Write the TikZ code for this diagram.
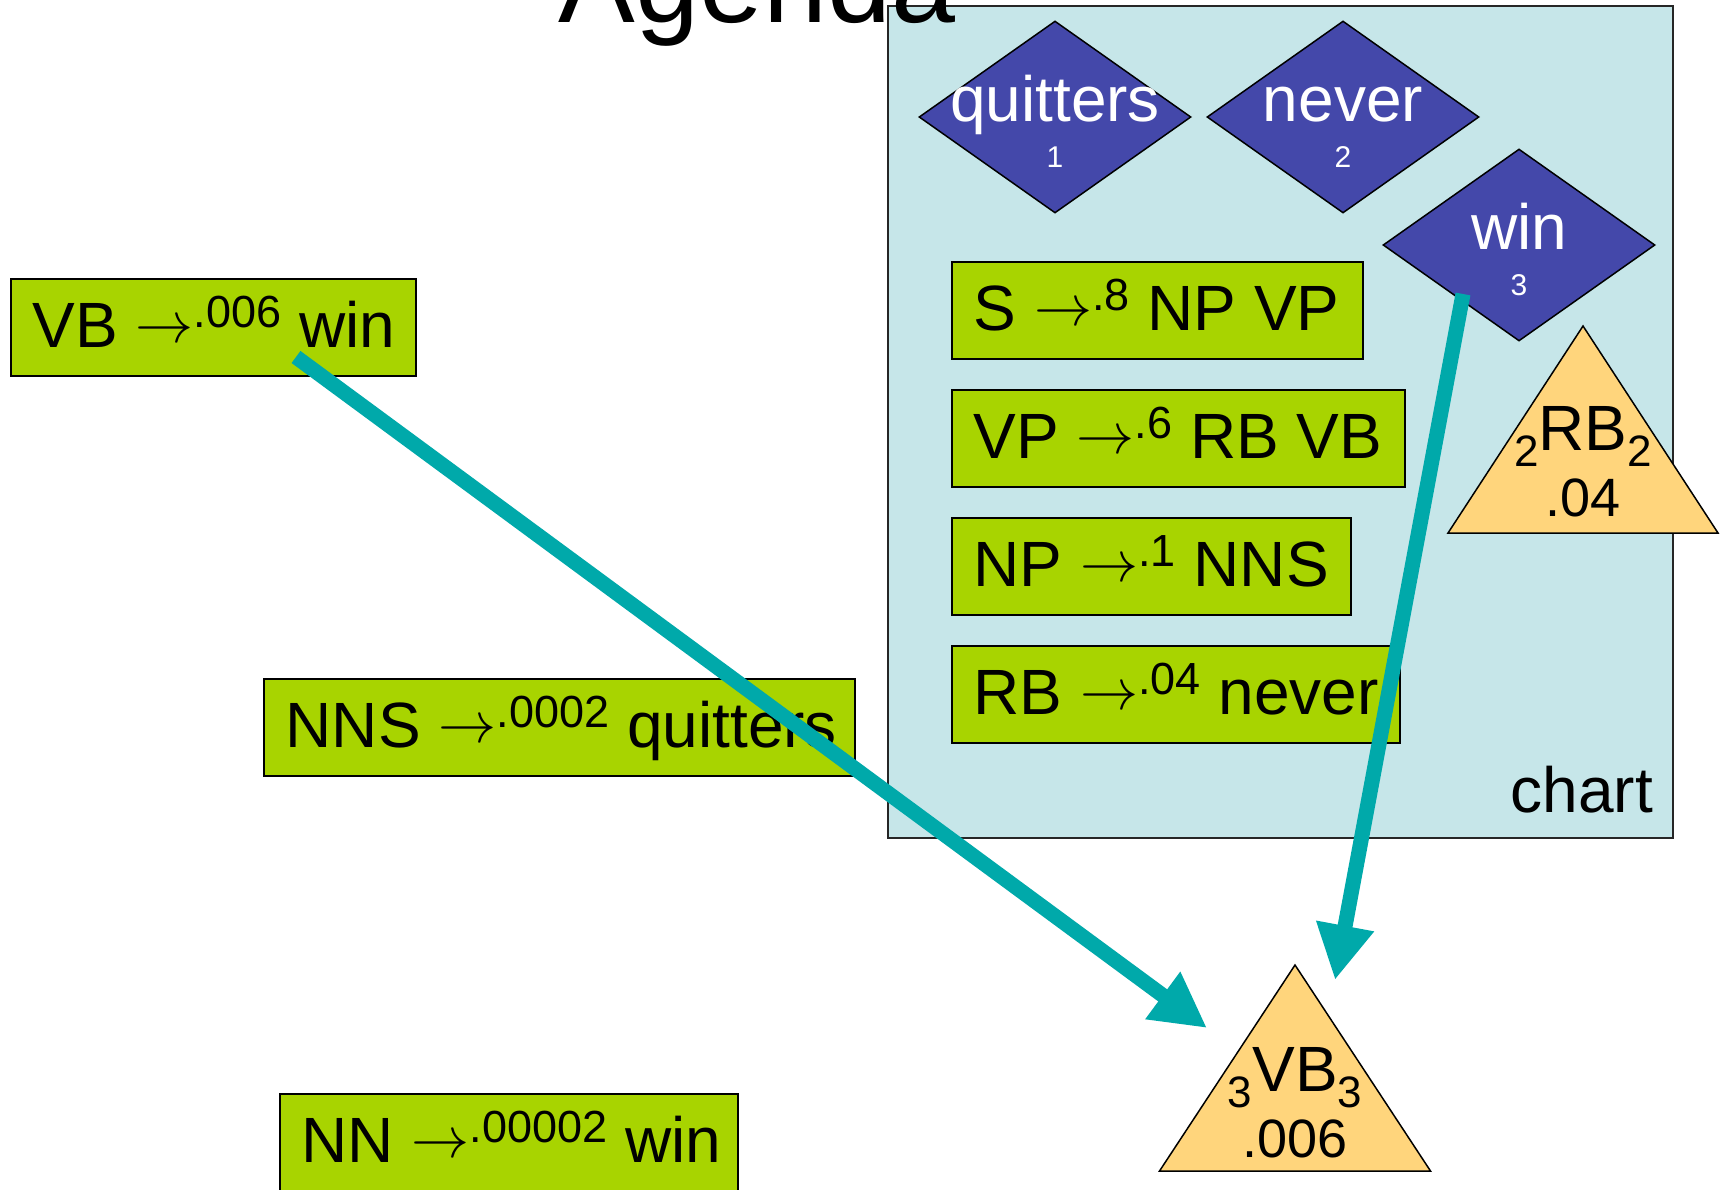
\RequirePackage{fix-cm}
\documentclass[tikz,border=0pt]{standalone}
\usepackage{fontspec}
\setmainfont{Liberation Sans}
\usetikzlibrary{arrows.meta,shapes.geometric}
\definecolor{rulegreen}{RGB}{168,212,0}
\definecolor{chartbg}{RGB}{198,230,233}
\definecolor{diablue}{RGB}{68,72,170}
\definecolor{trifill}{RGB}{255,213,124}
\definecolor{flowteal}{RGB}{0,169,170}
\newcommand\bigfont{\fontsize{64pt}{72pt}\selectfont}
\newcommand\pw[1]{\raisebox{20pt}{\fontsize{45pt}{50pt}\selectfont #1}}
\newcommand\arr{\raisebox{5pt}{\fontsize{58pt}{60pt}\selectfont$\rightarrow$}}
\newcommand\rb[2]{\makebox[\dimexpr #1pt-44pt\relax][l]{\bigfont #2}}
\newcommand\dlab[2]{\makebox[0pt]{\raisebox{-4pt}[0pt][0pt]{\bigfont #1}}\makebox[0pt]{\raisebox{-50pt}[0pt][0pt]{\fontsize{30pt}{32pt}\selectfont #2}}}
\newcommand\tsub[1]{\raisebox{-16pt}{\fontsize{44pt}{48pt}\selectfont #1}}
\newcommand\tlab[3]{\makebox[0pt]{\bigfont\tsub{#1}#2\tsub{#1}}\makebox[0pt]{\raisebox{-66pt}[0pt][0pt]{\fontsize{54pt}{58pt}\selectfont #3}}}
\tikzset{
  rulebox/.style={draw=black, line width=1.5pt, fill=rulegreen, anchor=north west,
    inner xsep=22pt, inner ysep=0pt, text height=52pt, text depth=11pt, minimum height=97pt},
  dia/.style={shape=diamond, draw=black, line width=1.5pt, fill=diablue, text=white,
    minimum width=272pt, minimum height=192pt, inner sep=0pt, text height=0pt, text depth=0pt},
  tri/.style={draw=black, line width=1.5pt, fill=trifill, line join=miter},
  tritext/.style={inner sep=0pt, text height=0pt, text depth=0pt},
  chartbox/.style={draw=black!85, line width=2pt, fill=chartbg, anchor=north west,
    minimum width=785pt, minimum height=832pt, inner sep=0pt},
  flow/.style={draw=flowteal, line width=15pt, -{Triangle[length=55pt,width=55pt]}, line cap=butt},
}
\begin{document}
\begin{tikzpicture}[x=1pt,y=-1pt]
\useasboundingbox (0,0) rectangle (1728,1189);
\clip (0,0) rectangle (1728,1189);
\fill[white] (0,0) rectangle (1728,1189);
% chart area
\node[chartbox] (chart) at (887,5) {};
\node[anchor=base east, inner sep=0pt] (chartlbl) at (1653,812) {\bigfont chart};
% words
\node[dia] (w1) at (1055,117) {\dlab{quitters}{1}};
\node[dia] (w2) at (1343,117) {\dlab{never}{2}};
\node[dia] (w3) at (1519,245) {\dlab{win}{3}};
% chart rules
\node[rulebox] (rs)  at (951,261) {\rb{411}{S \arr\pw{.8} NP VP}};
\node[rulebox] (rvp) at (951,389) {\rb{453}{VP \arr\pw{.6} RB VB}};
\node[rulebox] (rnp) at (951,517) {\rb{399}{NP \arr\pw{.1} NNS}};
\node[rulebox] (rrb) at (951,645) {\rb{448}{RB \arr\pw{.04} never}};
% agenda rules
\node[rulebox] (vb)  at (10,278)  {\rb{405}{VB \arr\pw{.006} win}};
\node[rulebox] (nns) at (263,678) {\rb{591}{NNS \arr\pw{.0002} quitters}};
\node[rulebox] (nn)  at (279,1093){\rb{458}{NN \arr\pw{.00002} win}};
% triangles
\draw[tri] (1583,326) -- (1718,533) -- (1448,533) -- cycle;
\node[tritext] (rbt) at (1583,450) {\tlab{2}{RB}{.04}};
\draw[tri] (1295,965) -- (1430.5,1171) -- (1159.5,1171) -- cycle;
\node[tritext] (vbt) at (1295,1091) {\tlab{3}{VB}{.006}};
% title
\node[anchor=base, inner sep=0pt] (title) at (757,22) {\fontsize{115pt}{120pt}\selectfont Agenda};
% connectors
\coordinate (vbwin) at (296,357);
\coordinate (vbtip) at (1207,1028);
\coordinate (w3foot) at (1463,294);
\coordinate (w3tip) at (1335,980);
\draw[flow] (vbwin) -- (vbtip);
\draw[flow] (w3foot) -- (w3tip);
\end{tikzpicture}
\end{document}
